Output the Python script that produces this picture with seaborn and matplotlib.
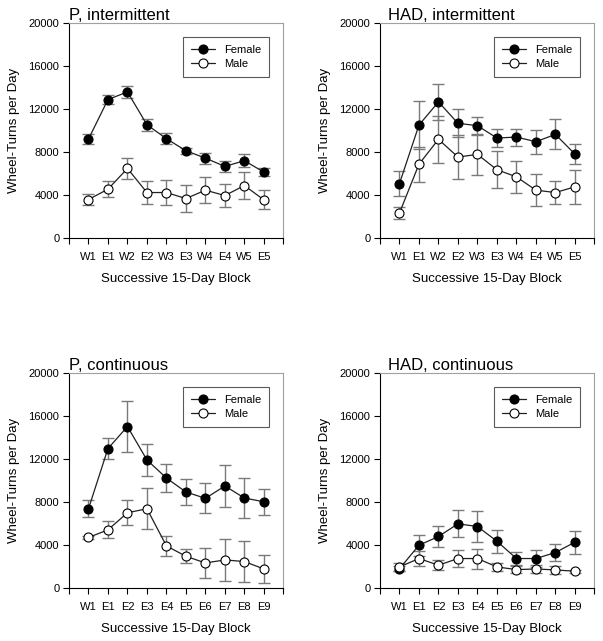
import numpy as np
import pandas as pd
import matplotlib
matplotlib.use('Agg')
import matplotlib.pyplot as plt
import seaborn as sns

sns.set_style('ticks')
plt.rcParams['font.family'] = ['Liberation Sans', 'DejaVu Sans']
plt.rcParams['text.color'] = 'black'
plt.rcParams['axes.labelcolor'] = 'black'
plt.rcParams['xtick.color'] = 'black'
plt.rcParams['ytick.color'] = 'black'

# ── Data ──────────────────────────────────────────────────────────────────────

blocks_int = ['W1', 'E1', 'W2', 'E2', 'W3', 'E3', 'W4', 'E4', 'W5', 'E5']
blocks_con = ['W1', 'E1', 'E2', 'E3', 'E4', 'E5', 'E6', 'E7', 'E8', 'E9']

p_int_female     = [9200, 12880, 13590, 10540, 9240, 8120, 7430, 6660, 7190, 6130]
p_int_female_err = [500, 450, 570, 570, 500, 280, 500, 530, 620, 370]
p_int_male       = [3580, 4540, 6470, 4230, 4230, 3670, 4450, 3950, 4880, 3550]
p_int_male_err   = [470, 760, 970, 1100, 1200, 1280, 1200, 1080, 1230, 870]

had_int_female     = [5070, 10510, 12660, 10670, 10450, 9300, 9390, 8960, 9640, 7810]
had_int_female_err = [1180, 2240, 1710, 1300, 840, 810, 790, 1120, 1400, 900]
had_int_male       = [2330, 6870, 9180, 7530, 7780, 6350, 5690, 4450, 4230, 4760]
had_int_male_err   = [570, 1620, 2180, 2050, 1920, 1700, 1460, 1490, 1060, 1590]

p_con_female     = [7370, 12970, 15020, 11910, 10230, 8930, 8340, 9490, 8370, 8020]
p_con_female_err = [810, 980, 2380, 1450, 1280, 1210, 1400, 1910, 1850, 1230]
p_con_male       = [4700, 5410, 7000, 7370, 3920, 2950, 2330, 2610, 2460, 1770]
p_con_male_err   = [100, 790, 1170, 1910, 950, 640, 1400, 1930, 1880, 1260]

had_con_female     = [1800, 3980, 4790, 5970, 5720, 4350, 2740, 2740, 3300, 4260]
had_con_female_err = [200, 980, 1000, 1260, 1400, 1050, 590, 780, 810, 1060]
had_con_male       = [1960, 2740, 2120, 2740, 2740, 1960, 1710, 1770, 1680, 1560]
had_con_male_err   = [370, 720, 470, 780, 930, 400, 340, 330, 340, 150]

panels = [
    ('P, intermittent',   blocks_int, p_int_female, p_int_female_err, p_int_male, p_int_male_err),
    ('HAD, intermittent', blocks_int, had_int_female, had_int_female_err, had_int_male, had_int_male_err),
    ('P, continuous',     blocks_con, p_con_female, p_con_female_err, p_con_male, p_con_male_err),
    ('HAD, continuous',   blocks_con, had_con_female, had_con_female_err, had_con_male, had_con_male_err),
]

# ── Figure ─────────────────────────────────────────────────────────────────────

fig = plt.figure(figsize=(6.03, 6.41), dpi=100)
positions = [
    [0.1144, 0.6287, 0.3555, 0.3354],
    [0.6302, 0.6287, 0.3555, 0.3354],
    [0.1144, 0.0827, 0.3555, 0.3354],
    [0.6302, 0.0827, 0.3555, 0.3354],
]
title_x = [0.0, 0.035, 0.0, 0.035]

for pos, tx, (title, blocks, fem, fem_err, mal, mal_err) in zip(positions, title_x, panels):
    ax = fig.add_axes(pos)
    df = pd.DataFrame({
        'block': np.arange(len(blocks)),
        'Female': fem, 'Female_err': fem_err,
        'Male': mal, 'Male_err': mal_err,
    })

    for sex, face in [('Female', 'black'), ('Male', 'white')]:
        ax.errorbar(df['block'], df[sex], yerr=df[sex + '_err'], fmt='none',
                    ecolor='#7a7a7a', elinewidth=1, capsize=4.5, capthick=1, zorder=2)
        sns.lineplot(data=df, x='block', y=sex, ax=ax, color='#202020', lw=0.9,
                     marker='o', markersize=6.5, markerfacecolor=face,
                     markeredgecolor='black', markeredgewidth=0.8,
                     label=sex, zorder=3)

    ax.set_xlim(-1, len(blocks))
    ax.set_ylim(0, 20000)
    ax.set_xticks(np.arange(-1, len(blocks) + 1))
    ax.set_xticklabels([''] + blocks + [''], fontsize=8)
    ax.set_yticks(np.arange(0, 20001, 4000))
    ax.set_yticklabels([str(v) for v in range(0, 20001, 4000)], fontsize=8)
    ax.tick_params(axis='both', direction='out', length=4, width=0.8, pad=6)
    ax.tick_params(axis='y', pad=3)
    ax.set_xlabel('Successive 15-Day Block', fontsize=9.5, labelpad=8)
    ax.set_ylabel('Wheel-Turns per Day', fontsize=9.5, labelpad=6)
    ax.set_title(title, loc='left', x=tx, fontsize=12, pad=1)

    for side in ['left', 'bottom']:
        ax.spines[side].set_color('black')
        ax.spines[side].set_linewidth(0.8)
    for side in ['top', 'right']:
        ax.spines[side].set_visible(True)
        ax.spines[side].set_color('#a0a0a0')
        ax.spines[side].set_linewidth(0.8)

    leg = ax.legend(loc='upper right', bbox_to_anchor=(0.96, 0.96), fontsize=8,
                    frameon=True, fancybox=False, edgecolor='#303030',
                    handlelength=2.2, borderpad=0.7, labelspacing=0.35)
    leg.get_frame().set_linewidth(0.8)

fig.savefig('out.png', dpi=100)
